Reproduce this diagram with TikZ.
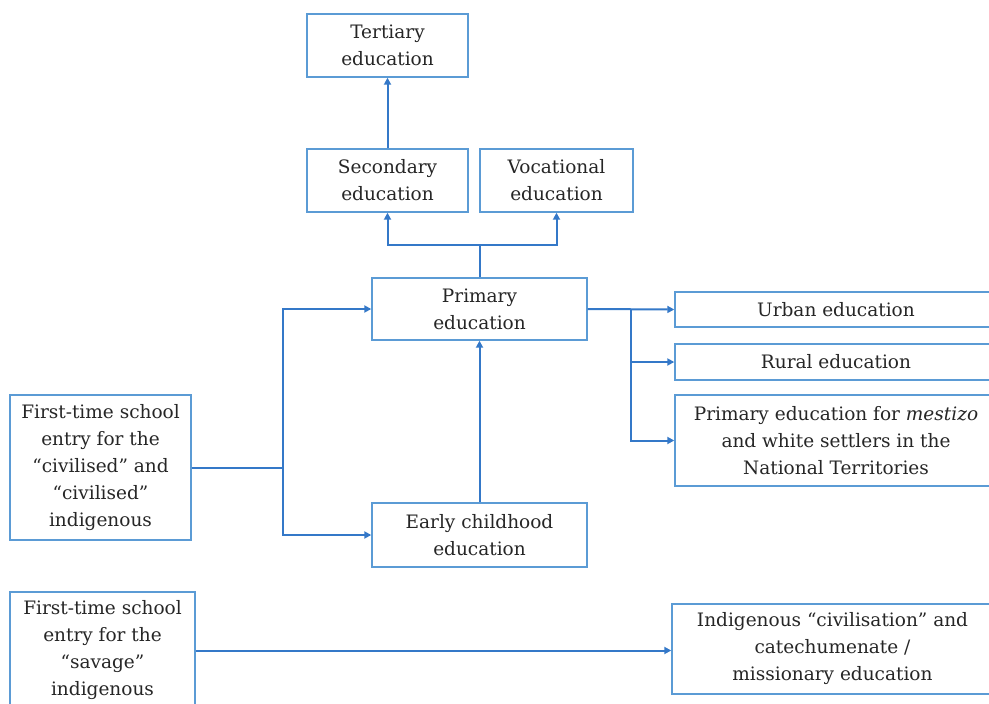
\documentclass[tikz,border=0pt]{standalone}
\usepackage{fontspec}
\setmainfont{DejaVu Serif}
\usetikzlibrary{arrows.meta}
\definecolor{boxc}{RGB}{91,155,213}
\definecolor{linec}{RGB}{52,120,200}
\begin{document}
\begin{tikzpicture}[x=1pt,y=-1pt,
 box/.style={draw=boxc, line width=1.4pt, inner sep=0pt, align=center, font=\fontsize{18.5}{27}\selectfont, text=black!85},
 conn/.style={draw=linec, line width=2pt, -{Triangle[length=7pt,width=7pt]}},
 plain/.style={draw=linec, line width=2pt}]
\clip (0,0) rectangle (989,704);
\fill[white] (0,0) rectangle (989,704);
\node[box, minimum width=161pt, minimum height=63pt] (tert) at (387.5,45.5) {Tertiary\\education};
\node[box, minimum width=161pt, minimum height=63pt] (sec) at (387.5,180.5) {Secondary\\education};
\node[box, minimum width=153pt, minimum height=63pt] (voc) at (556.5,180.5) {Vocational\\education};
\node[box, minimum width=215pt, minimum height=62pt] (prim) at (479.5,309) {Primary\\education};
\node[box, minimum width=215pt, minimum height=64pt] (early) at (479.5,535) {Early childhood\\education};
\node[box, minimum width=322pt, minimum height=35pt] (urban) at (836,309.5) {Urban education};
\node[box, minimum width=322pt, minimum height=36pt] (rural) at (836,362) {Rural education};
\node[box, minimum width=322pt, minimum height=91pt] (mest) at (836,440.5) {Primary education for \emph{mestizo}\\and white settlers in the\\National Territories};
\node[box, minimum width=181pt, minimum height=145pt] (civ) at (100.5,467.5) {First-time school\\entry for the\\“civilised” and\\“civilised”\\indigenous};
\node[box, minimum width=185pt, minimum height=117pt] (sav) at (102.5,650.5) {First-time school\\entry for the\\“savage”\\indigenous};
\node[box, minimum width=321pt, minimum height=90pt] (ind) at (832.5,649) {Indigenous “civilisation” and\\catechumenate /\\missionary education};
% connectors
\draw[conn] (sec.north) -- (tert.south);
\draw[plain] (prim.north) -- ++(0,-32) coordinate (j1);
\draw[conn] (j1) -| (sec.south);
\draw[conn] (j1) -| (voc.south);
\draw[conn] (prim.east) -- (urban.west);
\coordinate (j2) at (631,309.5);
\draw[conn] (j2) |- (rural.west);
\draw[conn] (j2) |- (mest.west);
\coordinate (j3) at (283,467.5);
\draw[plain] (civ.east) -- (j3);
\draw[conn] (j3) |- (prim.west);
\draw[conn] (j3) |- (early.west);
\draw[conn] (early.north) -- (prim.south);
\draw[conn] (sav.east) -- (ind.west |- sav.east);
\end{tikzpicture}
\end{document}
